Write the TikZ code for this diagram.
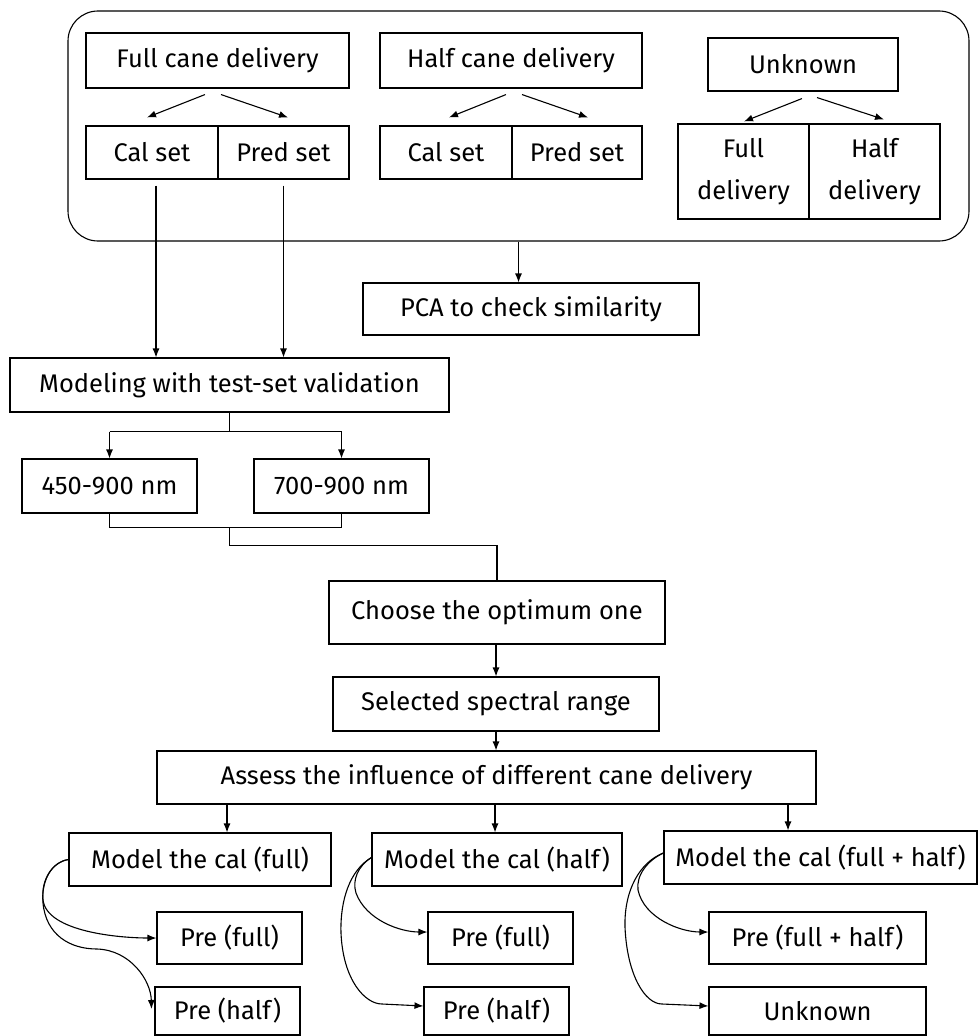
\documentclass[tikz,border=0pt]{standalone}
\usepackage{fontspec}
\setmainfont{Fira Sans}
\usetikzlibrary{arrows.meta,calc}
\tikzset{
  box/.style={draw, line width=1.1pt, inner sep=0pt, font=\fontsize{25.5}{29}\selectfont},
  arr/.style={line width=1.1pt,-{Latex[length=9pt,width=7pt]}},
  ln/.style={line width=1.1pt}
}
\begin{document}
\begin{tikzpicture}[x=1pt,y=-1pt]
\useasboundingbox (0,0) rectangle (978,1036);
% group frame
\node[draw, line width=1.1pt, rounded corners=30pt, minimum width=901pt, minimum height=230pt, inner sep=0pt] (outer) at (518.5,126) {};
% top boxes
\node[box, minimum width=263pt, minimum height=55pt] (full) at (217.5,60.5) {Full cane delivery};
\node[box, minimum width=132pt, minimum height=53pt] (cal1) at (152,152.5) {Cal set};
\node[box, minimum width=131pt, minimum height=53pt] (pred1) at (283.5,152.5) {Pred set};
\node[box, minimum width=262pt, minimum height=55pt] (half) at (511,60.5) {Half cane delivery};
\node[box, minimum width=132pt, minimum height=53pt] (cal2) at (446,152.5) {Cal set};
\node[box, minimum width=130pt, minimum height=53pt] (pred2) at (577,152.5) {Pred set};
\node[box, minimum width=190pt, minimum height=53pt] (unk) at (803,64.5) {Unknown};
\node[box, minimum width=131pt, minimum height=95pt, align=center, font=\fontsize{25.5}{42}\selectfont] (fd) at (743.5,171.5) {Full\\delivery};
\node[box, minimum width=131pt, minimum height=95pt, align=center, font=\fontsize{25.5}{42}\selectfont] (hd) at (874.5,171.5) {Half\\delivery};
% middle
\node[box, minimum width=336pt, minimum height=52pt] (pca) at (531,309) {PCA to check similarity};
\node[box, minimum width=439pt, minimum height=54pt] (model) at (229.5,385) {Modeling with test-set validation};
\node[box, minimum width=175pt, minimum height=54pt] (r450) at (109.5,486) {450-900 nm};
\node[box, minimum width=175pt, minimum height=54pt] (r700) at (341.5,486) {700-900 nm};
\node[box, minimum width=336pt, minimum height=63pt] (choose) at (497,612.5) {Choose the optimum one};
\node[box, minimum width=326pt, minimum height=54pt] (sel) at (496,704) {Selected spectral range};
\node[box, minimum width=659pt, minimum height=53pt] (assess) at (486.5,777.5) {Assess the influence of different cane delivery};
% bottom
\node[box, minimum width=262pt, minimum height=53pt] (mf) at (200,859.5) {Model the cal (full)};
\node[box, minimum width=250pt, minimum height=53pt] (mh) at (497,859.5) {Model the cal (half)};
\node[box, minimum width=313pt, minimum height=53pt] (mfh) at (820.5,857.5) {Model the cal (full + half)};
\node[box, minimum width=145pt, minimum height=52pt] (pf1) at (229.5,938) {Pre (full)};
\node[box, minimum width=145pt, minimum height=48pt] (ph1) at (227.5,1011) {Pre (half)};
\node[box, minimum width=145pt, minimum height=52pt] (pf2) at (500.5,938) {Pre (full)};
\node[box, minimum width=145pt, minimum height=48pt] (ph2) at (496.5,1011) {Pre (half)};
\node[box, minimum width=217pt, minimum height=52pt] (pfh) at (817.5,938) {Pre (full + half)};
\node[box, minimum width=217pt, minimum height=48pt] (unk2) at (817.5,1011) {Unknown};
% top split arrows
\draw[arr] ([xshift=-12.5pt,yshift=-6pt]full.south) -- ([xshift=-5pt,yshift=8pt]cal1.north);
\draw[arr] ([xshift=3.5pt,yshift=-6pt]full.south) -- ([xshift=4.5pt,yshift=8pt]pred1.north);
\draw[arr] ([xshift=-5pt,yshift=-6pt]half.south) -- ([xshift=3pt,yshift=8pt]cal2.north);
\draw[arr] ([xshift=11pt,yshift=-6pt]half.south) -- ([xshift=11pt,yshift=8pt]pred2.north);
\draw[arr] ([xshift=-1pt,yshift=-7pt]unk.south) -- ([xshift=0.5pt,yshift=2pt]fd.north);
\draw[arr] ([xshift=14pt,yshift=-6pt]unk.south) -- ([xshift=9.5pt,yshift=4pt]hd.north);
% to modeling
\draw[arr] ([xshift=4pt,yshift=-6pt]cal1.south) coordinate (c1) -- (c1 |- model.north);
\draw[arr] ([yshift=-6pt]pred1.south) coordinate (c2) -- (c2 |- model.north);
% to PCA
\draw[arr] (outer.south) -- (outer.south |- pca.north);
% modeling split
\draw[ln] (model.south) -- ++(0,19) coordinate (m1);
\draw[arr] (m1 -| r450.north) -- (r450.north);
\draw[arr] (m1 -| r700.north) -- (r700.north);
\draw[ln] (m1 -| r450.north) -- (m1 -| r700.north);
% merge
\draw[ln] (r450.south) -- ++(0,14) coordinate (m2) -- (m2 -| r700.south) -- (r700.south);
\draw[ln] (m2 -| model.south) -- ++(0,18) coordinate (m3) -- (m3 -| choose.north) -- (choose.north);
\draw[arr] ([xshift=-1pt]choose.south) -- ([xshift=-1pt]choose.south |- sel.north);
\draw[arr] (sel.south) -- (sel.south |- assess.north);
% assess split
\draw[arr] ([xshift=27pt]mf.north |- assess.south) -- ([xshift=27pt]mf.north);
\draw[arr] ([xshift=-2pt]mh.north |- assess.south) -- ([xshift=-2pt]mh.north);
\draw[arr] ([xshift=-32.5pt]mfh.north |- assess.south) -- ([xshift=-32.5pt]mfh.north);
% curved arrows left
\draw[arr] (mf.west) .. controls (52,862) and (41,880) .. (43,900) .. controls (47,932) and (120,938) .. (pf1.west);
\draw[arr] (mf.west) .. controls (52,862) and (41,880) .. (43,903) .. controls (46,935) and (70,949) .. (97,949) .. controls (130,950) and (151,980) .. ([xshift=-3pt,yshift=2pt]ph1.west);
% curved arrows middle
\draw[arr] ([yshift=2pt]mh.west) .. controls (358,866) and (352,880) .. (356,893) .. controls (366,920) and (400,932) .. ([yshift=6pt]pf2.west);
\draw[arr] ([yshift=2pt]mh.west) .. controls (350,870) and (340,900) .. (341,933) .. controls (343,980) and (365,1004) .. (382,1004) -- ([yshift=5pt]ph2.west);
% curved arrows right
\draw[arr] ([yshift=4.5pt]mfh.west) .. controls (648,860) and (636,875) .. (638,890) .. controls (644,918) and (680,932) .. ([yshift=6pt]pfh.west);
\draw[arr] ([yshift=4.5pt]mfh.west) .. controls (640,862) and (624,890) .. (625,927) .. controls (627,975) and (645,1004) .. (662,1004) -- ([yshift=5pt]unk2.west);
\end{tikzpicture}
\end{document}
